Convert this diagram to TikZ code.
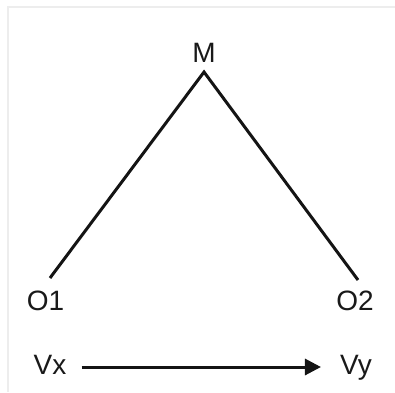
\documentclass[tikz,border=0pt]{standalone}
\usepackage{fontspec}
\setmainfont{Liberation Sans}
\usetikzlibrary{
    arrows.meta,
    positioning
}

\begin{document}
\begin{tikzpicture}[
    x=1pt, y=1pt,
    font=\fontsize{28}{32}\selectfont,
    label/.style={
        inner sep=0pt,
        anchor=base,
        text height=20pt,
        text depth=6pt,
        text=black!90
    },
    edge/.style={
        line width=3pt,
        draw=black!92
    },
    arrow/.style={
        -{Triangle[length=16pt,width=16pt]},
        line width=3pt,
        draw=black!92
    },
    frame/.style={
        line width=1.4pt,
        draw=black!7
    }
]

\useasboundingbox (0,0) rectangle (395,392);

% =========================================================
% Faint frame
% =========================================================
\coordinate (frametop) at (395,385);
\coordinate (framecorner) at (8,385);
\coordinate (framebottom) at (8,0);
\draw[frame] (frametop) -- (framecorner) -- (framebottom);

% =========================================================
% Labels
% =========================================================
\node[label] (m) at (204,330) {M};
\node[label] (o1) at (45.5,82) {O1};
\node[label] (o2) at (355,82) {O2};
\node[label] (vx) at (50,18) {Vx};
\node[label] (vy) at (356,18) {Vy};

% =========================================================
% Triangle
% =========================================================
\coordinate (apex) at (204,320);
\coordinate (leftend) at (50,114);
\coordinate (rightend) at (358,112);
\draw[edge, line join=miter] (leftend) -- (apex) -- (rightend);

% =========================================================
% Arrow
% =========================================================
\draw[arrow, shorten <=15pt, shorten >=19pt] (vx.east) -- (vy.west);

\end{tikzpicture}
\end{document}
